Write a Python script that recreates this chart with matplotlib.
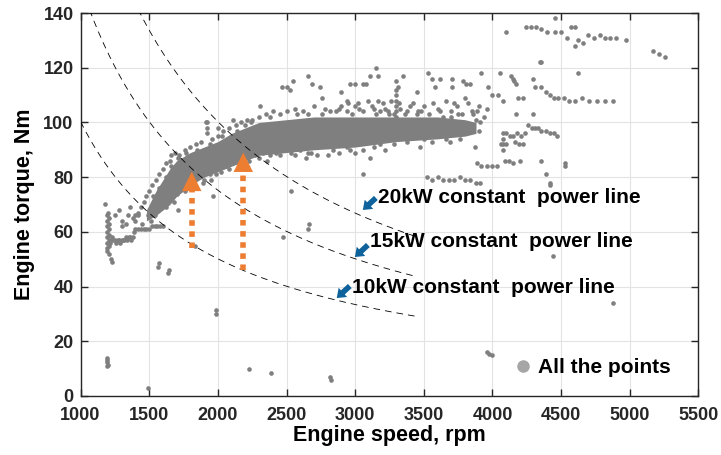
import numpy as np
import matplotlib
matplotlib.use("Agg")
import matplotlib.pyplot as plt
from matplotlib.lines import Line2D

plt.rcParams['font.family'] = ['Liberation Sans', 'DejaVu Sans']
plt.rcParams['font.weight'] = 'bold'

# ---- data ----
# dense core of the operating band (speed rpm, lower / upper torque Nm)
band_speed = [1480, 1550, 1600, 1650, 1700, 1800, 1900, 2000, 2100, 2200, 2300, 2500, 2700, 3000, 3300, 3600, 3800, 3880]
band_low = [64, 66, 68, 70, 73, 77, 80, 82, 84, 86, 88, 89, 90, 91, 93, 94, 95, 96]
band_high = [68, 75, 79, 83, 86, 89, 91, 93, 96, 98, 100, 101, 102, 102, 102, 102, 101, 100]

# idle / low speed cluster
idle_pts = [(1195, 54), (1195, 56), (1195, 58), (1195, 60), (1195, 62), (1195, 64), (1195, 66), (1200, 67),
            (1205, 55), (1205, 57), (1205, 59), (1205, 61), (1205, 63), (1210, 65), (1215, 56), (1220, 57),
            (1230, 58), (1240, 57), (1250, 57), (1260, 56), (1270, 57), (1280, 57), (1290, 56), (1300, 57),
            (1310, 57), (1320, 57), (1330, 58), (1340, 57), (1350, 58), (1360, 58), (1370, 57), (1380, 58),
            (1390, 60), (1400, 61), (1420, 61), (1440, 61), (1460, 61), (1480, 61), (1500, 61), (1520, 62),
            (1540, 62), (1560, 62), (1580, 62), (1600, 62), (1210, 52), (1225, 50), (1230, 49), (1195, 53),
            (1300, 62), (1300, 64), (1330, 63), (1345, 66), (1380, 65), (1400, 66), (1420, 67), (1180, 70),
            (1250, 66), (1280, 68), (1360, 69)]

# points around the edges of the band
edge_pts = [(1400, 64), (1420, 66), (1440, 69), (1450, 63), (1460, 71), (1480, 73), (1490, 66), (1500, 75),
            (1510, 64), (1520, 77), (1530, 70), (1545, 66), (1550, 79), (1560, 68), (1575, 81), (1590, 70),
            (1600, 83), (1610, 73), (1625, 85), (1640, 72), (1650, 86), (1660, 88), (1670, 75), (1690, 89),
            (1700, 74), (1720, 88), (1740, 76), (1760, 90), (1780, 77), (1800, 91), (1820, 78), (1840, 92),
            (1860, 80), (1880, 93), (1900, 79), (1920, 96), (1920, 98), (1920, 100), (1940, 81), (1960, 94),
            (1980, 83), (2000, 95), (2020, 82), (2040, 97), (2060, 84), (2080, 98), (2100, 85), (2110, 101),
            (2130, 99), (2150, 87), (2170, 100), (2200, 99), (2210, 101), (2230, 86), (2250, 101), (2270, 88),
            (2300, 102), (2310, 106), (2330, 89), (2350, 103), (2380, 88), (2400, 104), (2420, 89), (2450, 103),
            (2480, 90), (2466, 113), (2500, 113), (2525, 112), (2549, 115), (2500, 104), (2530, 89), (2560, 105),
            (2600, 90), (2620, 104), (2656, 117), (2683, 114), (2700, 106), (2682, 89), (2743, 113), (2755, 109),
            (2780, 105), (2800, 88), (2840, 90), (2860, 104), (2900, 111), (2900, 106), (2937, 108), (2940, 104),
            (2962, 114), (2962, 90), (3000, 114), (3000, 106), (3030, 105), (3057, 114), (3080, 114), (3107, 117),
            (3107, 87), (3120, 106), (3151, 120), (3163, 117), (3180, 104), (3200, 107), (3216, 90), (3240, 104),
            (3260, 108), (3280, 103), (3301, 115), (3301, 112), (3301, 110), (3301, 108), (3301, 106), (3301, 104),
            (3301, 102), (3310, 113), (3330, 105), (3347, 117), (3360, 103), (3400, 106), (3435, 101), (3435, 98),
            (3447, 111), (3471, 91), (3480, 104), (3500, 99), (3520, 95), (3531, 118), (3560, 116), (3580, 113),
            (3600, 105), (3617, 116), (3640, 102), (3665, 94), (3690, 93), (3702, 116), (3702, 113), (3720, 107),
            (3750, 103), (3786, 115), (3810, 114), (3835, 114), (3800, 109), (3850, 104), (3871, 91), (3880, 101),
            (3890, 104), (3920, 118), (3968, 113), (3993, 110), (4041, 110), (4053, 118), (4078, 108),
            (2820, 104), (2880, 105), (2950, 107), (3020, 107), (3060, 104), (3090, 108), (3140, 105), (3170, 108),
            (3220, 105), (3250, 103), (3320, 107), (3380, 104), (3420, 107), (3460, 104), (3500, 106), (3540, 103),
            (3570, 107), (3620, 104), (3660, 108), (3700, 104), (3740, 106), (3780, 103), (3820, 107), (3860, 103),
            (3900, 106), (3940, 102), (3960, 105), (2000, 98), (1913, 100),
            (2560, 88), (2640, 87), (2720, 88), (2880, 89), (3000, 89), (3060, 90), (3140, 91), (3280, 92),
            (3380, 93), (3560, 93), (3760, 94), (3900, 97), (3910, 100), (2360, 86), (2180, 84), (1950, 79),
            (1530, 73), (1570, 76), (1620, 80), (1660, 84), (1710, 87), (1770, 89), (1850, 90), (1940, 92),
            (2030, 95), (2140, 97), (2240, 100), (2380, 102), (2580, 103), (2660, 103), (2760, 103), (2980, 103),
            (3150, 103), (3450, 103), (3700, 102), (1620, 69), (1680, 71), (1760, 75), (1830, 77), (1890, 78),
            (1990, 81), (2080, 83), (2300, 87), (2450, 88), (2660, 89), (2940, 91), (3180, 92), (3500, 94)]

# high speed points
high_pts = [(4102, 133), (4247, 135), (4280, 135), (4320, 135), (4357, 134), (4400, 133), (4454, 133), (4454, 138),
            (4502, 133), (4575, 135), (4600, 135), (4540, 131), (4604, 128), (4620, 130), (4660, 129), (4696, 132),
            (4740, 131), (4780, 132), (4820, 131), (4854, 131), (4903, 131), (4975, 130), (5169, 126), (5210, 125),
            (5254, 124), (4352, 122), (4344, 122), (4623, 118), (4138, 117), (4150, 116), (4160, 115), (4175, 114),
            (4296, 116), (4357, 113), (4307, 113), (4393, 111), (4420, 110), (4450, 109), (4480, 109), (4520, 109),
            (4560, 108), (4600, 108), (4650, 109), (4700, 108), (4760, 108), (4820, 108), (4878, 108), (4223, 109),
            (4187, 109), (4175, 103), (4296, 103), (4075, 96), (4100, 96), (4125, 95), (4150, 95), (4180, 96),
            (4210, 95), (4240, 96), (4260, 99), (4290, 98), (4310, 98), (4332, 98), (4357, 97), (4390, 97),
            (4420, 96), (4450, 96), (4470, 95), (4078, 94), (4078, 92), (4078, 90), (4060, 92), (4100, 92),
            (4163, 93), (4190, 92), (4223, 92), (3886, 85), (3920, 84), (3960, 84), (4000, 84), (4031, 84),
            (4090, 86), (4120, 86), (4150, 85), (4200, 86), (4357, 86), (4393, 81), (4417, 78), (4420, 77),
            (4526, 85), (4526, 84), (3520, 80), (3560, 79), (3600, 80), (3640, 79), (3680, 79), (3720, 79),
            (3760, 80), (3800, 79), (3840, 79), (3880, 78), (3908, 78), (3055, 81)]

# isolated low-torque points
low_pts = [(1190, 11), (1190, 12.5), (1192, 14), (1195, 13), (1197, 11.5), (1490, 3), (1565, 47), (1570, 48.5),
           (1637, 45), (1643, 46), (1985, 30), (1990, 31.5), (2227, 10), (2384, 8.5), (2816, 6.8), (2825, 6),
           (2475, 58), (2655, 61), (2662, 63), (1833, 55), (4440, 51), (4878, 34), (3958, 16), (3975, 15.5),
           (3995, 15), (2532, 75), (1962, 73), (1710, 68)]

# constant power lines
power_kw = [10, 15, 20]
power_const = 10030  # Nm*rpm per kW as drawn in the figure
line_speed = np.linspace(1000, 3450, 200)

# label text and arrow targets (rpm, Nm)
power_labels = ['10kW constant  power line', '15kW constant  power line', '20kW constant  power line']
label_pos = [(2975, 39.8), (3107, 56.3), (3165, 72.7)]
arrow_tip = [(2866, 35.8), (2998, 50.8), (3056, 68)]

# orange arrows: speed, start torque, tip torque
up_speed = [1810, 2185]
up_start = [54, 46]
up_tip = [82, 89]

grey = '#7f7f7f'
orange = '#ED7D31'
blue = '#0E639C'

fig = plt.figure(figsize=(7.21, 4.55), dpi=100)
ax = fig.add_axes([0.1117, 0.1297, 0.857, 0.8417])

ax.fill_between(band_speed, band_low, band_high, color=grey, lw=0, zorder=2)
for pts in (idle_pts, edge_pts, high_pts, low_pts):
    arr = np.array(pts)
    ax.scatter(arr[:, 0], arr[:, 1], s=11, color=grey, lw=0, zorder=2)

for p in power_kw:
    ax.plot(line_speed, p * power_const / line_speed, color='black', lw=0.6,
            linestyle=(0, (8, 6)), zorder=3)

for text, pos, tip in zip(power_labels, label_pos, arrow_tip):
    ax.text(pos[0], pos[1], text, fontsize=15, fontweight='bold', va='center', ha='left', zorder=5)
    ax.annotate('', xy=tip, xytext=(tip[0] + 95, tip[1] + 4.4),
                arrowprops=dict(arrowstyle='simple,head_length=0.6,head_width=0.9,tail_width=0.4',
                                color=blue, lw=0, mutation_scale=10, shrinkA=0, shrinkB=0), zorder=5)

for x, y0, y1 in zip(up_speed, up_start, up_tip):
    ax.plot([x, x], [y0, y1 - 5], color=orange, lw=4, linestyle=(0, (1, 1)),
            solid_capstyle='butt', dash_capstyle='butt', zorder=4)
    ax.annotate('', xy=(x, y1), xytext=(x, y1 - 5.5),
                arrowprops=dict(arrowstyle='-|>,head_length=1.0,head_width=0.5',
                                color=orange, lw=0, mutation_scale=14, shrinkA=0, shrinkB=0), zorder=4)

ax.set_xlim(1000, 5500)
ax.set_ylim(0, 140)
ax.set_xticks(np.arange(1000, 5501, 500))
ax.set_yticks(np.arange(0, 141, 20))
ax.grid(True, color='#e3e3e3', lw=0.8)
ax.set_axisbelow(True)
ax.tick_params(direction='in', top=True, right=True, length=5, width=1, labelsize=13, colors='#262626')
ax.tick_params(axis='x', pad=8)
ax.tick_params(axis='y', pad=5)
for lab in ax.get_xticklabels() + ax.get_yticklabels():
    lab.set_fontweight('bold')
for sp in ax.spines.values():
    sp.set_color('#262626')
    sp.set_linewidth(1)

ax.set_xlabel('Engine speed, rpm', fontsize=15.5, fontweight='bold', labelpad=1)
ax.set_ylabel('Engine torque, Nm', fontsize=15.5, fontweight='bold', labelpad=6)

handle = Line2D([], [], marker='o', color='#a6a6a6', linestyle='none', markersize=8)
ax.legend([handle], ['All the points'], loc='lower right', bbox_to_anchor=(0.985, 0.0),
          frameon=False, handletextpad=0.1, handlelength=1.2, prop={'size': 15, 'weight': 'bold'})

fig.savefig('out.png', dpi=100)
